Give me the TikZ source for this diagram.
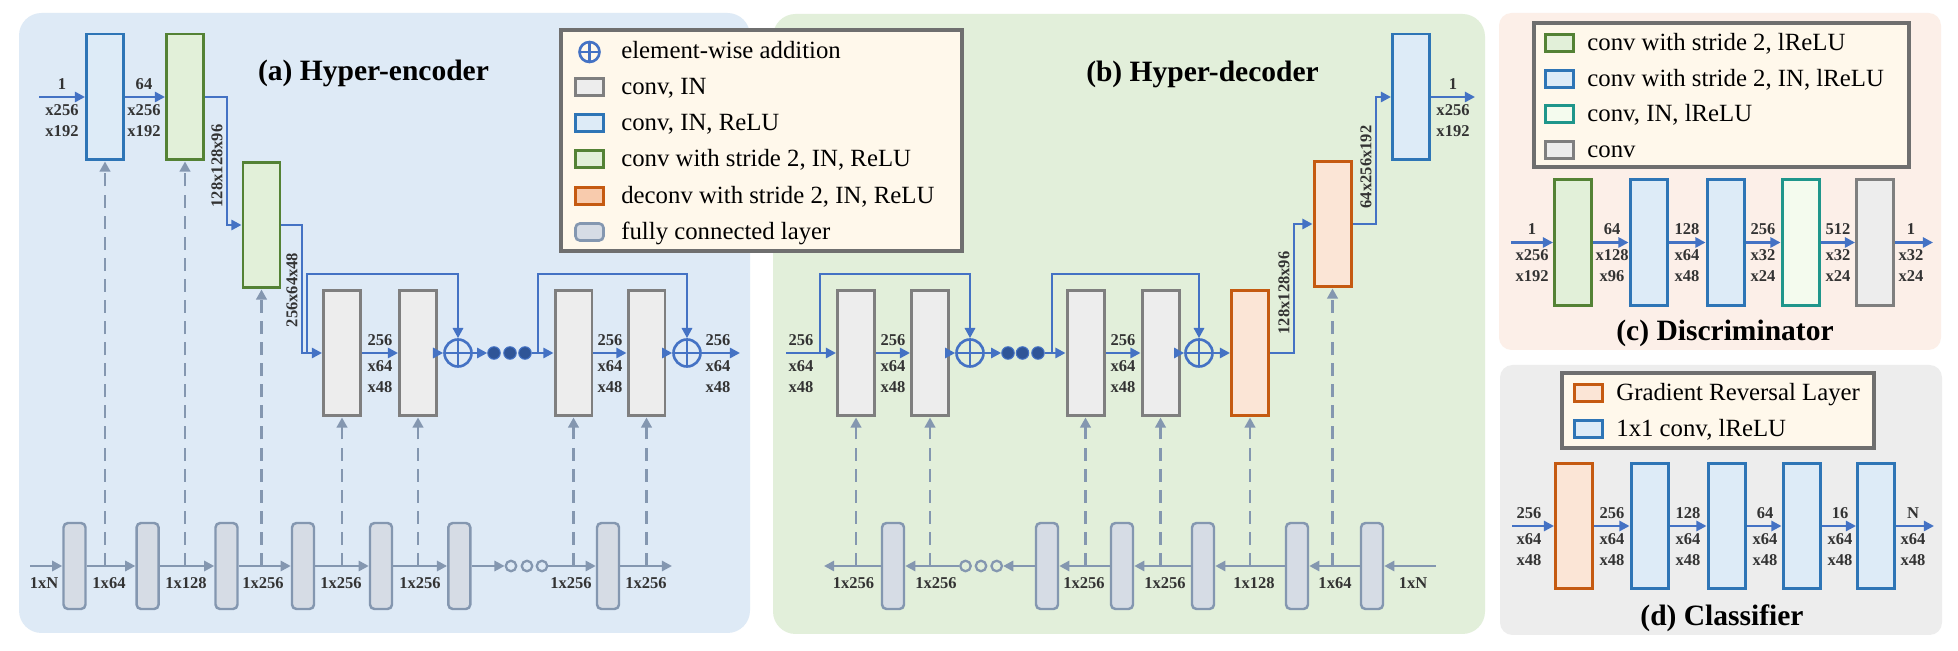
\documentclass[tikz,border=0pt]{standalone}
\usepackage{fontspec}
\setmainfont{Liberation Serif}
\usetikzlibrary{arrows.meta,calc}

\definecolor{bgA}{HTML}{DEEAF6}
\definecolor{bgB}{HTML}{E2EFDA}
\definecolor{bgC}{HTML}{FCEFE8}
\definecolor{bgD}{HTML}{EDEDED}
\definecolor{bluE}{HTML}{2E75B6}
\definecolor{bluF}{HTML}{DDEBF7}
\definecolor{grnE}{HTML}{548235}
\definecolor{grnF}{HTML}{E2F0D9}
\definecolor{gryE}{HTML}{7F7F7F}
\definecolor{gryF}{HTML}{EDEDED}
\definecolor{orgE}{HTML}{C55A11}
\definecolor{orgF}{HTML}{FBE5D6}
\definecolor{orgL}{HTML}{F8CBAD}
\definecolor{tealE}{HTML}{1F968B}
\definecolor{tealF}{HTML}{F4FBEE}
\definecolor{arrB}{HTML}{4472C4}
\definecolor{fcE}{HTML}{8497B0}
\definecolor{fcF}{HTML}{D6DCE5}
\definecolor{dotF}{HTML}{2F5597}
\definecolor{legE}{HTML}{6F6F6F}
\definecolor{legF}{HTML}{FFF8EB}
\definecolor{txt}{HTML}{333333}

\newcommand\dimlab[6]{%
  \node[lab] (#1a) at (#2,#3-12.5) {#4};
  \node[lab] (#1b) at (#2,#3+13.5) {#5};
  \node[lab] (#1c) at (#2,#3+34) {#6};}

\begin{document}
\begin{tikzpicture}[x=0.02cm, y=-0.02cm,
  box/.style={draw, line width=1.7pt, inner sep=0pt, minimum width=0.74cm, minimum height=2.52cm},
  bx/.style={box, draw=bluE, fill=bluF},
  gx/.style={box, draw=grnE, fill=grnF},
  cx/.style={box, draw=gryE, fill=gryF},
  ox/.style={box, draw=orgE, fill=orgF},
  tx/.style={box, draw=tealE, fill=tealF},
  fc/.style={draw=fcE, fill=fcF, line width=1.4pt, rounded corners=2.5pt, inner sep=0pt, minimum width=0.44cm, minimum height=1.72cm},
  arr/.style={draw=arrB, line width=1.4pt, -{Triangle[length=5.8pt,width=5.8pt]}},
  fcarr/.style={draw=fcE, line width=1.7pt, -{Triangle[length=5.8pt,width=5.8pt]}},
  dsh/.style={draw=fcE, line width=1.5pt, dash pattern=on 7.4pt off 4.6pt, -{Triangle[length=5.8pt,width=6pt]}},
  plusc/.style={circle, draw=arrB, line width=1.5pt, minimum size=0.54cm, inner sep=0pt,
    path picture={\draw[arrB, line width=1.5pt] (path picture bounding box.north) -- (path picture bounding box.south) (path picture bounding box.west) -- (path picture bounding box.east);}},
  dotc/.style={circle, fill=dotF, draw=arrB, line width=0.6pt, minimum size=0.25cm, inner sep=0pt},
  ocirc/.style={circle, draw=fcE, line width=1.3pt, minimum size=0.21cm, inner sep=0pt},
  lab/.style={font=\bfseries\fontsize{9.4}{10}\selectfont, text=txt, inner sep=0pt},
  legt/.style={font=\fontsize{14.1}{16}\selectfont, anchor=base west, inner sep=0pt},
  ttl/.style={font=\bfseries\fontsize{16.8}{19}\selectfont, anchor=base, inner sep=0pt},
  leg/.style={draw, line width=1.7pt, minimum width=0.56cm, minimum height=0.34cm, inner sep=0pt},
  legbox/.style={draw=legE, fill=legF, line width=1.8pt},
  panel/.style={rounded corners=0.45cm}
]
\useasboundingbox (0,0) rectangle (1958,651);
\fill[white] (0,0) rectangle (1958,651);

% ---------- panel backgrounds
\fill[bgA, panel] (19,13) rectangle (750,633);
\fill[bgB, panel] (773,14) rectangle (1485,634);
\fill[bgC, rounded corners=0.25cm] (1499,13) rectangle (1941,350);
\fill[bgD, rounded corners=0.25cm] (1500,365) rectangle (1942,635);

% ---------- titles
\node[ttl] (ta) at (373.5,81) {(a) Hyper-encoder};
\node[ttl] (tb) at (1202.5,82) {(b) Hyper-decoder};
\node[ttl] (tc) at (1725,341) {(c) Discriminator};
\node[ttl] (td) at (1722,625) {(d) Classifier};

% ---------- legend (a/b)
\draw[legbox] (561,30) rectangle (962,251);
\node[plusc, minimum size=0.4cm] (lgp) at (589.5,52) {};
\node[leg, draw=gryE, fill=gryF] (lg1) at (589.5,87) {};
\node[leg, draw=bluE, fill=bluF] (lg2) at (589.5,123) {};
\node[leg, draw=grnE, fill=grnF] (lg3) at (589.5,159) {};
\node[leg, draw=orgE, fill=orgL] (lg4) at (589.5,196) {};
\node[leg, draw=fcE, fill=fcF, rounded corners=2.5pt, line width=1.5pt] (lg5) at (589.5,232) {};
\node[legt] (lt0) at (621,59) {element-wise addition};
\node[legt] (lt1) at (621,95) {conv, IN};
\node[legt] (lt2) at (621,131) {conv, IN, ReLU};
\node[legt] (lt3) at (621,167) {conv with stride 2, IN, ReLU};
\node[legt] (lt4) at (621,204) {deconv with stride 2, IN, ReLU};
\node[legt] (lt5) at (621,240) {fully connected layer};

% ---------- panel (a) hyper-encoder
\node[bx] (e1) at (105,97) {};
\node[gx] (e2) at (185,97) {};
\node[gx] (e3) at (261.5,225) {};
\node[cx] (eA) at (342,353) {};
\node[cx] (eB) at (418,353) {};
\node[plusc] (pa1) at (458,353) {};
\node[dotc] (da1) at (494,353) {};
\node[dotc] (da2) at (510,353) {};
\node[dotc] (da3) at (525,353) {};
\node[cx] (eC) at (573.5,353) {};
\node[cx] (eD) at (646.5,353) {};
\node[plusc] (pa2) at (687,353) {};
\coordinate (ain) at (39,97);
\coordinate (aout) at (740,353);
\coordinate (ja1) at (227,97);
\coordinate (ja2) at (302,225);
\coordinate (skA1) at (307,353);
\coordinate (skA2) at (538,353);

\draw[arr] (ain) -- (e1.west);
\draw[arr] (e1.east) -- (e2.west);
\draw[arr] (e2.east) -- (ja1) |- (e3.west);
\draw[arr] (e3.east) -- (ja2) |- (eA.west);
\draw[arr] (skA1) -- ++(0,-79) -| (pa1.north);
\draw[arr] (eA.east) -- (eB.west);
\draw[arr] (eB.east) -- (pa1.west);
\draw[arr] (pa1.east) -- (da1.west);
\draw[arr] (da3.east) -- (eC.west);
\draw[arr] (skA2) -- ++(0,-79) -| (pa2.north);
\draw[arr] (eC.east) -- (eD.west);
\draw[arr] (eD.east) -- (pa2.west);
\draw[arr] (pa2.east) -- (aout);

\dimlab{la1}{62}{97}{1}{x256}{x192}
\dimlab{la2}{144}{97}{64}{x256}{x192}
\dimlab{la3}{380}{353}{256}{x64}{x48}
\dimlab{la4}{610}{353}{256}{x64}{x48}
\dimlab{la5}{718}{353}{256}{x64}{x48}
\node[lab, rotate=90] (ra1) at (217,166) {128x128x96};
\node[lab, rotate=90] (ra2) at (292,290) {256x64x48};

% FC row (a)
\foreach \n/\x in {1/74.5,2/147.6,3/226.5,4/303,5/381,6/459.3,7/608}
  \node[fc] (fa\n) at (\x,566) {};
\node[ocirc] (oa1) at (511,566) {};
\node[ocirc] (oa2) at (527,566) {};
\node[ocirc] (oa3) at (542,566) {};
\coordinate (fain) at (30,566);
\coordinate (faout) at (672,566);
\draw[fcarr] (fain) -- (fa1.west);
\foreach \a/\b in {1/2,2/3,3/4,4/5,5/6}
  \draw[fcarr] (fa\a.east) -- (fa\b.west);
\draw[fcarr] (fa6.east) -- (oa1.west);
\draw[fcarr] (oa3.east) -- (fa7.west);
\draw[fcarr] (fa7.east) -- (faout);
\foreach \b in {e1,e2,e3,eA,eB,eC,eD}
  \draw[dsh] (\b.south |- fain) -- (\b.south);
\foreach \n/\x/\t in {1/44/1xN,2/109/1x64,3/186/1x128,4/263/1x256,5/341/1x256,6/420/1x256,7/571/1x256,8/646/1x256}
  \node[lab] (fla\n) at (\x,583) {\t};

% ---------- panel (b) hyper-decoder
\node[bx] (dT) at (1411,97) {};
\node[ox] (o2) at (1332.5,224) {};
\node[ox] (o1) at (1250,353) {};
\node[cx] (dE) at (856,353) {};
\node[cx] (dF) at (930,353) {};
\node[plusc] (pb1) at (970,353) {};
\node[dotc] (db1) at (1008,353) {};
\node[dotc] (db2) at (1022.5,353) {};
\node[dotc] (db3) at (1038,353) {};
\node[cx] (dG) at (1085.5,353) {};
\node[cx] (dH) at (1160.5,353) {};
\node[plusc] (pb2) at (1199,353) {};
\coordinate (bin) at (786,353);
\coordinate (bout) at (1475,97);
\coordinate (jb1) at (1294,353);
\coordinate (jb2) at (1376,224);
\coordinate (skB1) at (820,353);
\coordinate (skB2) at (1052,353);

\draw[arr] (bin) -- (dE.west);
\draw[arr] (skB1) -- ++(0,-79) -| (pb1.north);
\draw[arr] (dE.east) -- (dF.west);
\draw[arr] (dF.east) -- (pb1.west);
\draw[arr] (pb1.east) -- (db1.west);
\draw[arr] (db3.east) -- (dG.west);
\draw[arr] (skB2) -- ++(0,-79) -| (pb2.north);
\draw[arr] (dG.east) -- (dH.west);
\draw[arr] (dH.east) -- (pb2.west);
\draw[arr] (pb2.east) -- (o1.west);
\draw[arr] (o1.east) -- (jb1) |- (o2.west);
\draw[arr] (o2.east) -- (jb2) |- (dT.west);
\draw[arr] (dT.east) -- (bout);

\dimlab{lb1}{801}{353}{256}{x64}{x48}
\dimlab{lb2}{893}{353}{256}{x64}{x48}
\dimlab{lb3}{1123}{353}{256}{x64}{x48}
\dimlab{lb4}{1453}{97}{1}{x256}{x192}
\node[lab, rotate=90] (rb1) at (1284,293) {128x128x96};
\node[lab, rotate=90] (rb2) at (1366,167) {64x256x192};

% FC row (b)
\foreach \n/\x in {1/893,2/1047,3/1122,4/1203,5/1297,6/1372}
  \node[fc] (g\n) at (\x,566) {};
\node[ocirc] (ob1) at (965.5,566) {};
\node[ocirc] (ob2) at (981,566) {};
\node[ocirc] (ob3) at (996.7,566) {};
\coordinate (gin) at (1435.6,566);
\coordinate (gout) at (824,566);
\draw[fcarr] (gin) -- (g6.east);
\foreach \a/\b in {6/5,5/4,4/3,3/2}
  \draw[fcarr] (g\a.west) -- (g\b.east);
\draw[fcarr] (g2.west) -- (ob3.east);
\draw[fcarr] (ob1.west) -- (g1.east);
\draw[fcarr] (g1.west) -- (gout);
\foreach \b in {dE,dF,dG,dH,o1,o2}
  \draw[dsh] (\b.south |- gin) -- (\b.south);
\foreach \n/\x/\t in {1/1413/1xN,2/1335/1x64,3/1254/1x128,4/1165/1x256,5/1084/1x256,6/936/1x256,7/853.5/1x256}
  \node[lab] (flb\n) at (\x,583) {\t};

% ---------- panel (c) discriminator
\draw[legbox] (1534,23) rectangle (1909,167);
\node[leg, draw=grnE, fill=grnF] (lc1) at (1559,43) {};
\node[leg, draw=bluE, fill=bluF] (lc2) at (1559,79) {};
\node[leg, draw=tealE, fill=tealF] (lc3) at (1559,114) {};
\node[leg, draw=gryE, fill=gryF] (lc4) at (1559,150) {};
\node[legt] (lct1) at (1587,51) {conv with stride 2, lReLU};
\node[legt] (lct2) at (1587,87) {conv with stride 2, IN, lReLU};
\node[legt] (lct3) at (1587,122) {conv, IN, lReLU};
\node[legt] (lct4) at (1587,158) {conv};

\node[gx] (c1) at (1573,242.5) {};
\node[bx] (c2) at (1648.5,242.5) {};
\node[bx] (c3) at (1725.5,242.5) {};
\node[tx] (c4) at (1800.5,242.5) {};
\node[cx] (c5) at (1875,242.5) {};
\coordinate (cin) at (1511,242.5);
\coordinate (cout) at (1933,242.5);
\draw[arr] (cin) -- (c1.west);
\foreach \a/\b in {1/2,2/3,3/4,4/5}
  \draw[arr] (c\a.east) -- (c\b.west);
\draw[arr] (c5.east) -- (cout);
\dimlab{lcA}{1532}{242}{1}{x256}{x192}
\dimlab{lcB}{1612}{242}{64}{x128}{x96}
\dimlab{lcC}{1687}{242}{128}{x64}{x48}
\dimlab{lcD}{1763}{242}{256}{x32}{x24}
\dimlab{lcE}{1838}{242}{512}{x32}{x24}
\dimlab{lcF}{1911}{242}{1}{x32}{x24}

% ---------- panel (d) classifier
\draw[legbox] (1562,373) rectangle (1874,448);
\node[leg, draw=orgE, fill=orgF] (ld1) at (1588,393) {};
\node[leg, draw=bluE, fill=bluF] (ld2) at (1588,429) {};
\node[legt] (ldt1) at (1616,401) {Gradient Reversal Layer};
\node[legt] (ldt2) at (1616,437) {1x1 conv, lReLU};

\node[ox] (k1) at (1574,526) {};
\node[bx] (k2) at (1649.5,526) {};
\node[bx] (k3) at (1726.5,526) {};
\node[bx] (k4) at (1801.5,526) {};
\node[bx] (k5) at (1876,526) {};
\coordinate (kin) at (1512,526);
\coordinate (kout) at (1934,526);
\draw[arr] (kin) -- (k1.west);
\foreach \a/\b in {1/2,2/3,3/4,4/5}
  \draw[arr] (k\a.east) -- (k\b.west);
\draw[arr] (k5.east) -- (kout);
\dimlab{ldA}{1529}{526}{256}{x64}{x48}
\dimlab{ldB}{1612}{526}{256}{x64}{x48}
\dimlab{ldC}{1688}{526}{128}{x64}{x48}
\dimlab{ldD}{1765}{526}{64}{x64}{x48}
\dimlab{ldE}{1840}{526}{16}{x64}{x48}
\dimlab{ldF}{1913}{526}{N}{x64}{x48}
\end{tikzpicture}
\end{document}
